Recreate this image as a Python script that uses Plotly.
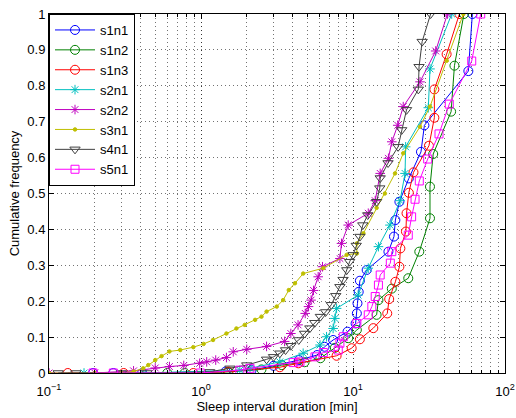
import plotly.graph_objects as go

# ---- data (x in minutes, y cumulative frequency) ----
s1n1_x = [0.195, 0.265, 0.41, 1.45, 2.15, 3.0, 4.4, 5.8, 6.5, 7.4, 9.2, 10.4, 10.6, 10.7, 10.9, 11.1, 12.3, 17.1, 18.6, 19.0, 20.2, 23.3, 28.0, 29.5, 57.4, 61.0]
s1n1_y = [0, 0, 0, 0.004, 0.008, 0.02, 0.036, 0.05, 0.073, 0.092, 0.115, 0.138, 0.166, 0.194, 0.226, 0.257, 0.287, 0.338, 0.38, 0.426, 0.477, 0.542, 0.616, 0.69, 0.841, 1.0]

s1n2_x = [0.6, 0.78, 1.5, 2.5, 3.4, 4.8, 6.1, 7.6, 9.3, 10.6, 14.3, 14.7, 18.0, 23.1, 27.3, 32.1, 32.1, 33.7, 44.2, 46.5, 53.7]
s1n2_y = [0, 0, 0.003, 0.01, 0.022, 0.03, 0.041, 0.07, 0.097, 0.12, 0.162, 0.203, 0.235, 0.264, 0.338, 0.431, 0.519, 0.61, 0.728, 0.856, 1.0]

s1n3_x = [0.133, 0.31, 0.89, 1.52, 3.3, 4.37, 7.8, 9.8, 11.1, 13.6, 16.8, 17.3, 19.0, 20.2, 20.5, 22.3, 22.5, 23.3, 25.0, 31.6, 34.3, 34.3, 41.3, 50.1]
s1n3_y = [0, 0, 0, 0.004, 0.016, 0.027, 0.048, 0.069, 0.094, 0.125, 0.166, 0.206, 0.254, 0.296, 0.347, 0.394, 0.445, 0.502, 0.559, 0.633, 0.711, 0.79, 0.888, 1.0]

s2n1_x = [0.17, 0.42, 1.8, 2.1, 3.3, 4.7, 6.07, 6.7, 7.4, 7.6, 7.8, 10.8, 12.6, 14.7, 17.5, 20.4, 22.0, 22.2, 31.3, 32.1, 44.6]
s2n1_y = [0, 0, 0.008, 0.013, 0.031, 0.055, 0.078, 0.101, 0.124, 0.152, 0.18, 0.217, 0.292, 0.352, 0.412, 0.48, 0.556, 0.63, 0.739, 0.847, 1.0]

s2n2_x = [0.1, 0.2, 0.36, 0.5, 0.62, 0.77, 0.98, 1.09, 1.25, 1.47, 1.63, 2.0, 2.7, 3.55, 3.9, 4.35, 4.85, 5.1, 5.3, 5.5,
          5.9, 6.3, 8.2, 8.4, 9.3, 12.6, 14.0, 15.1, 17.1, 18.0, 19.7, 21.4, 27.6, 35.0, 41.8]
s2n2_y = [0, 0, 0.006, 0.014, 0.018, 0.021, 0.027, 0.031, 0.036, 0.043, 0.059, 0.066, 0.074, 0.088, 0.11, 0.134, 0.166, 0.185, 0.203, 0.23,
          0.268, 0.296, 0.319, 0.361, 0.412, 0.445, 0.48, 0.556, 0.598, 0.644, 0.69, 0.742, 0.811, 0.897, 1.0]

s3n1_x = [0.1, 0.2, 0.3, 0.36, 0.417, 0.45, 0.5, 0.55, 0.62, 0.73, 0.89, 1.04, 1.2, 1.47, 1.71, 1.94, 2.27, 2.5, 2.7, 3.15,
          3.47, 3.78, 4.15, 4.7, 6.38, 9.08, 10.6, 10.6, 11.7, 14.3, 16.2, 18.9, 21.4, 27.6, 32.1, 41.4, 53.2]
s3n1_y = [0, 0, 0, 0.004, 0.013, 0.022, 0.036, 0.047, 0.06, 0.064, 0.072, 0.081, 0.092, 0.11, 0.124, 0.134, 0.148, 0.157, 0.171, 0.185,
          0.203, 0.231, 0.25, 0.277, 0.292, 0.329, 0.333, 0.361, 0.389, 0.46, 0.5, 0.556, 0.612, 0.686, 0.742, 0.87, 1.0]

s4n1_x = [0.115, 0.15, 0.3, 0.44, 1.14, 1.55, 2.0, 2.7, 3.0, 3.3, 3.6, 3.9, 4.4, 4.8, 5.2, 5.6, 6.1, 6.6, 7.2, 7.7,
          8.2, 8.6, 9.1, 9.5, 10.0, 10.5, 11.1, 11.6, 12.5, 14.3, 15.0, 15.1, 17.0, 19.8, 20.9, 22.5, 26.9, 27.2, 28.5, 32.4]
s4n1_y = [0, 0, 0, 0, 0.003, 0.013, 0.022, 0.038, 0.045, 0.055, 0.064, 0.076, 0.092, 0.11, 0.125, 0.14, 0.157, 0.17, 0.19, 0.215,
          0.24, 0.26, 0.287, 0.31, 0.329, 0.355, 0.38, 0.412, 0.44, 0.477, 0.515, 0.543, 0.585, 0.63, 0.677, 0.733, 0.79, 0.853, 0.923, 1.0]

s5n1_x = [0.195, 0.265, 0.99, 1.8, 2.1, 4.04, 4.48, 5.62, 6.38, 8.0, 8.2, 8.63, 10.6, 12.6, 13.3, 14.0, 14.7, 15.1, 17.6, 18.0,
          23.1, 24.3, 25.6, 27.3, 31.0, 36.8, 43.0, 60.4, 69.2]
s5n1_y = [0, 0, 0, 0.008, 0.013, 0.029, 0.031, 0.045, 0.057, 0.064, 0.083, 0.101, 0.138, 0.162, 0.185, 0.213, 0.245, 0.273, 0.306, 0.338,
          0.384, 0.435, 0.484, 0.535, 0.596, 0.666, 0.749, 0.869, 1.0]

series_names = ["s1n1", "s1n2", "s1n3", "s2n1", "s2n2", "s3n1", "s4n1", "s5n1"]
series_x = [s1n1_x, s1n2_x, s1n3_x, s2n1_x, s2n2_x, s3n1_x, s4n1_x, s5n1_x]
series_y = [s1n1_y, s1n2_y, s1n3_y, s2n1_y, s2n2_y, s3n1_y, s4n1_y, s5n1_y]

x_tick_vals = [0.1, 1, 10, 100]
x_tick_text = ["10<sup>−1</sup>", "10<sup>0</sup>", "10<sup>1</sup>", "10<sup>2</sup>"]
y_tick_vals = [0, 0.1, 0.2, 0.3, 0.4, 0.5, 0.6, 0.7, 0.8, 0.9, 1]
y_tick_text = ["0", "0.1", "0.2", "0.3", "0.4", "0.5", "0.6", "0.7", "0.8", "0.9", "1"]

# ---- styles ----
colors = ["#0000ff", "#008000", "#ff0000", "#00bfbf", "#bf00bf", "#bfbf00", "#404040", "#ff00ff"]
symbols = ["circle-open", "circle-open", "circle-open", "asterisk-open", "asterisk-open", "circle", "triangle-down-open", "square-open"]
sizes = [9, 9, 9, 8, 8, 3.5, 9, 8]

fig = go.Figure()
for name, xs, ys, c, s, sz in zip(series_names, series_x, series_y, colors, symbols, sizes):
    fig.add_trace(go.Scatter(
        x=xs, y=ys, name=name, mode="lines+markers",
        line=dict(color=c, width=1),
        marker=dict(symbol=s, size=sz, color=c, line=dict(color=c, width=1)),
    ))

FONT = "Liberation Sans, Arial, Helvetica, sans-serif"
grid = dict(gridcolor="rgba(0,0,0,0.55)", griddash="1px,3px", gridwidth=1)

fig.update_layout(
    width=516, height=418,
    margin=dict(l=49, r=11, t=14, b=45, autoexpand=False),
    paper_bgcolor="white", plot_bgcolor="white",
    font=dict(family=FONT, size=13, color="black"),
    showlegend=True,
    legend=dict(x=0, y=1, xanchor="left", yanchor="top",
                bgcolor="white", bordercolor="black", borderwidth=1,
                font=dict(size=13), tracegroupgap=0, itemwidth=40),
)
fig.update_xaxes(
    type="log", range=[-1, 2], automargin=False,
    tickvals=x_tick_vals, ticktext=x_tick_text, ticklabelstandoff=6,
    ticks="inside", ticklen=5, tickcolor="black",
    showline=True, linecolor="black", linewidth=1, mirror="allticks",
    showgrid=True, **grid, zeroline=False,
    minor=dict(dtick="D1", showgrid=True, ticks="inside", ticklen=3, tickcolor="black", **grid),
    title=dict(text="Sleep interval duration [min]", standoff=4, font=dict(size=13)),
)
fig.update_yaxes(
    range=[0, 1], automargin=False,
    tickvals=y_tick_vals, ticktext=y_tick_text,
    ticks="inside", ticklen=5, tickcolor="black",
    showline=True, linecolor="black", linewidth=1, mirror="allticks",
    showgrid=True, **grid, zeroline=False,
    title=dict(text="Cumulative frequency", standoff=4, font=dict(size=13)),
)

fig.write_html(
    "out.html",
    config={"displayModeBar": False},
    post_script="document.body.style.margin='0';document.body.style.overflow='hidden';",
)
